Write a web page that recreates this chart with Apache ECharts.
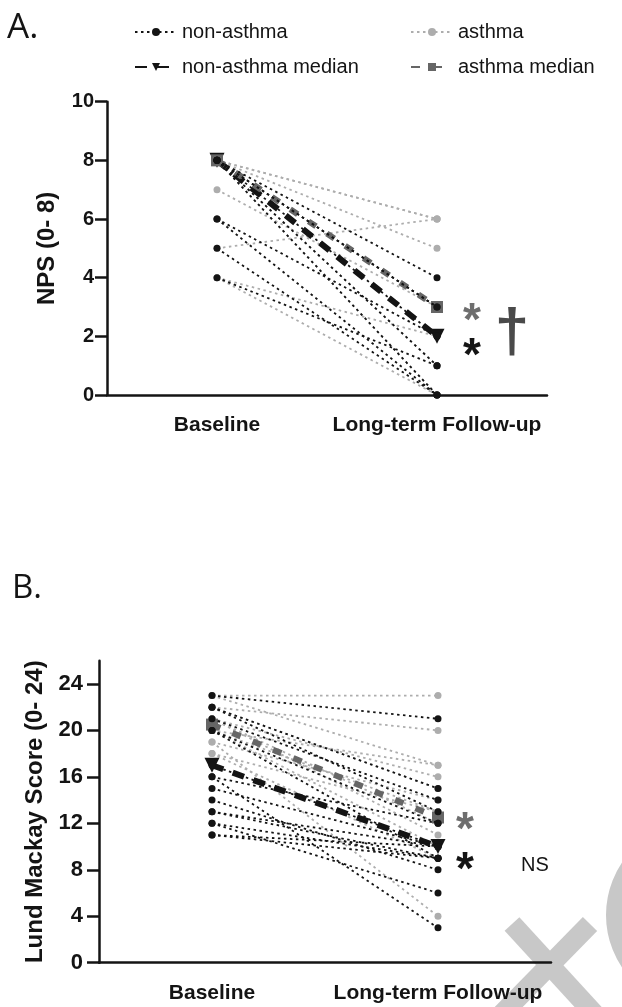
<!DOCTYPE html>
<html>
<head>
<meta charset="utf-8">
<title>NPS / Lund Mackay</title>
<script src="https://cdn.jsdelivr.net/npm/echarts@6/dist/echarts.min.js"></script>
<style>
html,body{margin:0;padding:0;background:#fff;}
#main{width:622px;height:1007px;}
</style>
</head>
<body>
<div id="main"></div>
<script>
var categories = ['Baseline', 'Long-term Follow-up'];

/** A. NPS, [baseline, follow-up] per patient **/
var npsNonAsthma = [[8,4],[8,3],[8,3],[8,2],[8,1],[8,0],[6,2],[6,0],[5,0],[4,1]];
var npsAsthma = [[8,6],[8,6],[8,5],[8,3],[8,1],[7,3],[5,6],[4,2],[4,0],[8,0]];
var npsMedianNonAsthma = [8, 2];
var npsMedianAsthma = [8, 3];
var npsTicks = [0, 2, 4, 6, 8, 10];

/** B. Lund Mackay, [baseline, follow-up] per patient **/
var lmsNonAsthma = [[23,21],[22,15],[22,13],[21,14],[20,12],[20,9],[17,10],[16,3],[16,12],[15,10],[14,8],[13,9],[13,10],[12,6],[12,9],[11,10],[11,9]];
var lmsAsthma = [[23,23],[22,20],[23,17],[21,16],[20,17],[19,14],[21,12],[18,13],[19,4],[20,10],[22,15],[18,9],[21,11],[20,13]];
var lmsMedianNonAsthma = [17, 10];
var lmsMedianAsthma = [20.5, 12.5];
var lmsTicks = [0, 4, 8, 12, 16, 20, 24];

var FONT = '"Liberation Sans", Arial, sans-serif';
var BLACK = '#141414';
var GREY = '#adadad';
var MED_GREY = '#666666';

// one dotted line per patient
function patientSeries(name, pairs, idx, color, z) {
    var out = [];
    for (var i = 0; i < pairs.length; i++) {
        out.push({
            name: name,
            type: 'line',
            xAxisIndex: idx,
            yAxisIndex: idx,
            data: pairs[i],
            symbol: 'circle',
            symbolSize: 7,
            silent: true,
            z: z,
            itemStyle: {color: color},
            lineStyle: {color: color, width: 1.8, type: [2.5, 3.5]}
        });
    }
    return out;
}

function medianSeries(name, data, idx, color, symbol, dash, z) {
    return {
        name: name,
        type: 'line',
        xAxisIndex: idx,
        yAxisIndex: idx,
        data: data,
        symbol: symbol,
        symbolRotate: symbol == 'triangle' ? 180 : 0,
        symbolSize: symbol == 'triangle' ? 15 : 12,
        silent: true,
        z: z,
        itemStyle: {color: color},
        lineStyle: {color: color, width: 6, type: dash}
    };
}

function xAxisOpt(idx, margin) {
    return {
        type: 'category',
        gridIndex: idx,
        data: categories,
        z: 10,
        axisLine: {lineStyle: {color: BLACK, width: 2.5}},
        axisTick: {alignWithLabel: true, length: 12, lineStyle: {color: BLACK, width: 2.5}},
        axisLabel: {interval: 0, color: BLACK, fontFamily: FONT, fontWeight: 'bold', fontSize: 21, margin: margin},
        splitLine: {show: false}
    };
}

function yAxisOpt(idx, name, max, interval, ticks, fs, nameFs, nameGap, margin) {
    return {
        type: 'value',
        gridIndex: idx,
        min: 0,
        max: max,
        interval: interval,
        name: name,
        nameLocation: 'middle',
        nameGap: nameGap,
        nameTextStyle: {color: BLACK, fontFamily: FONT, fontWeight: 'bold', fontSize: nameFs},
        axisLine: {show: true, lineStyle: {color: BLACK, width: 2.5}},
        axisTick: {show: true, length: 12, customValues: ticks, lineStyle: {color: BLACK, width: 2.5}},
        axisLabel: {color: BLACK, fontFamily: FONT, fontWeight: 'bold', fontSize: fs, margin: margin, customValues: ticks},
        splitLine: {show: false}
    };
}

function legendItem(name, left, top) {
    return {
        data: [name],
        left: left,
        top: top,
        selectedMode: false,
        itemWidth: 42,
        itemHeight: 10,
        padding: 0,
        textStyle: {color: BLACK, fontFamily: FONT, fontSize: 20}
    };
}

function textMark(text, x, y, fontSize, color, weight) {
    return {
        type: 'text',
        x: x,
        y: y,
        z: 20,
        style: {
            text: text,
            fill: color,
            font: (weight || 'normal') + ' ' + fontSize + 'px ' + FONT,
            align: 'center',
            verticalAlign: 'middle'
        }
    };
}

var series = [];
series = series.concat(patientSeries('asthma', npsAsthma, 0, GREY, 2));
series.push(medianSeries('non-asthma median', npsMedianNonAsthma, 0, BLACK, 'triangle', [12, 10], 3));
series.push(medianSeries('asthma median', npsMedianAsthma, 0, MED_GREY, 'rect', [9, 13], 4));
series = series.concat(patientSeries('non-asthma', npsNonAsthma, 0, BLACK, 5));
series = series.concat(patientSeries('asthma', lmsAsthma, 1, GREY, 2));
series.push(medianSeries('non-asthma median', lmsMedianNonAsthma, 1, BLACK, 'triangle', [12, 10], 3));
series.push(medianSeries('asthma median', lmsMedianAsthma, 1, MED_GREY, 'rect', [9, 13], 4));
series = series.concat(patientSeries('non-asthma', lmsNonAsthma, 1, BLACK, 5));

var option = {
    animation: false,
    backgroundColor: '#fff',
    grid: [
        {left: 107, top: 101.7, width: 440, height: 293.3, containLabel: false, outerBoundsMode: 'none'},
        {left: 99, top: 660.7, width: 452, height: 302, containLabel: false, outerBoundsMode: 'none'}
    ],
    legend: [
        legendItem('non-asthma', 134, 22),
        legendItem('asthma', 410, 22),
        legendItem('non-asthma median', 134, 57),
        legendItem('asthma median', 410, 57)
    ],
    xAxis: [xAxisOpt(0, 20), xAxisOpt(1, 20)],
    yAxis: [
        yAxisOpt(0, 'NPS (0- 8)', 10, 2, npsTicks, 20, 24, 48, 13),
        yAxisOpt(1, 'Lund Mackay Score (0- 24)', 26, 4, lmsTicks, 22, 24, 46, 16)
    ],
    series: series,
    graphic: [
        // watermark remains in the corner
        {type: 'line', z: -1, shape: {x1: 512, y1: 924, x2: 600, y2: 1020}, style: {stroke: '#c8c8c8', lineWidth: 20}},
        {type: 'line', z: -1, shape: {x1: 590, y1: 924, x2: 496, y2: 1020}, style: {stroke: '#c8c8c8', lineWidth: 20}},
        {type: 'circle', z: -1, shape: {cx: 700, cy: 915, r: 85}, style: {fill: 'none', stroke: '#c8c8c8', lineWidth: 18}},
        {type: 'text', x: 7, y: 28, z: 20, style: {text: 'A.', fill: BLACK, font: '35px "Open Sans", sans-serif', verticalAlign: 'middle'}},
        {type: 'text', x: 12, y: 589, z: 20, style: {text: 'B.', fill: BLACK, font: '33px "Open Sans", sans-serif', verticalAlign: 'middle'}},
        textMark('*', 472, 322, 46, '#6e6e6e', 'bold'),
        textMark('*', 472, 357, 46, BLACK, 'bold'),
        textMark('\u2020', 512, 334, 62, '#4a4a4a', 'bold'),
        textMark('*', 465, 831, 46, '#6e6e6e', 'bold'),
        textMark('*', 465, 871, 46, BLACK, 'bold'),
        textMark('NS', 535, 865, 20, BLACK, 'normal')
    ]
};

var myChart = echarts.init(document.getElementById('main'));
myChart.setOption(option);
</script>
</body>
</html>
